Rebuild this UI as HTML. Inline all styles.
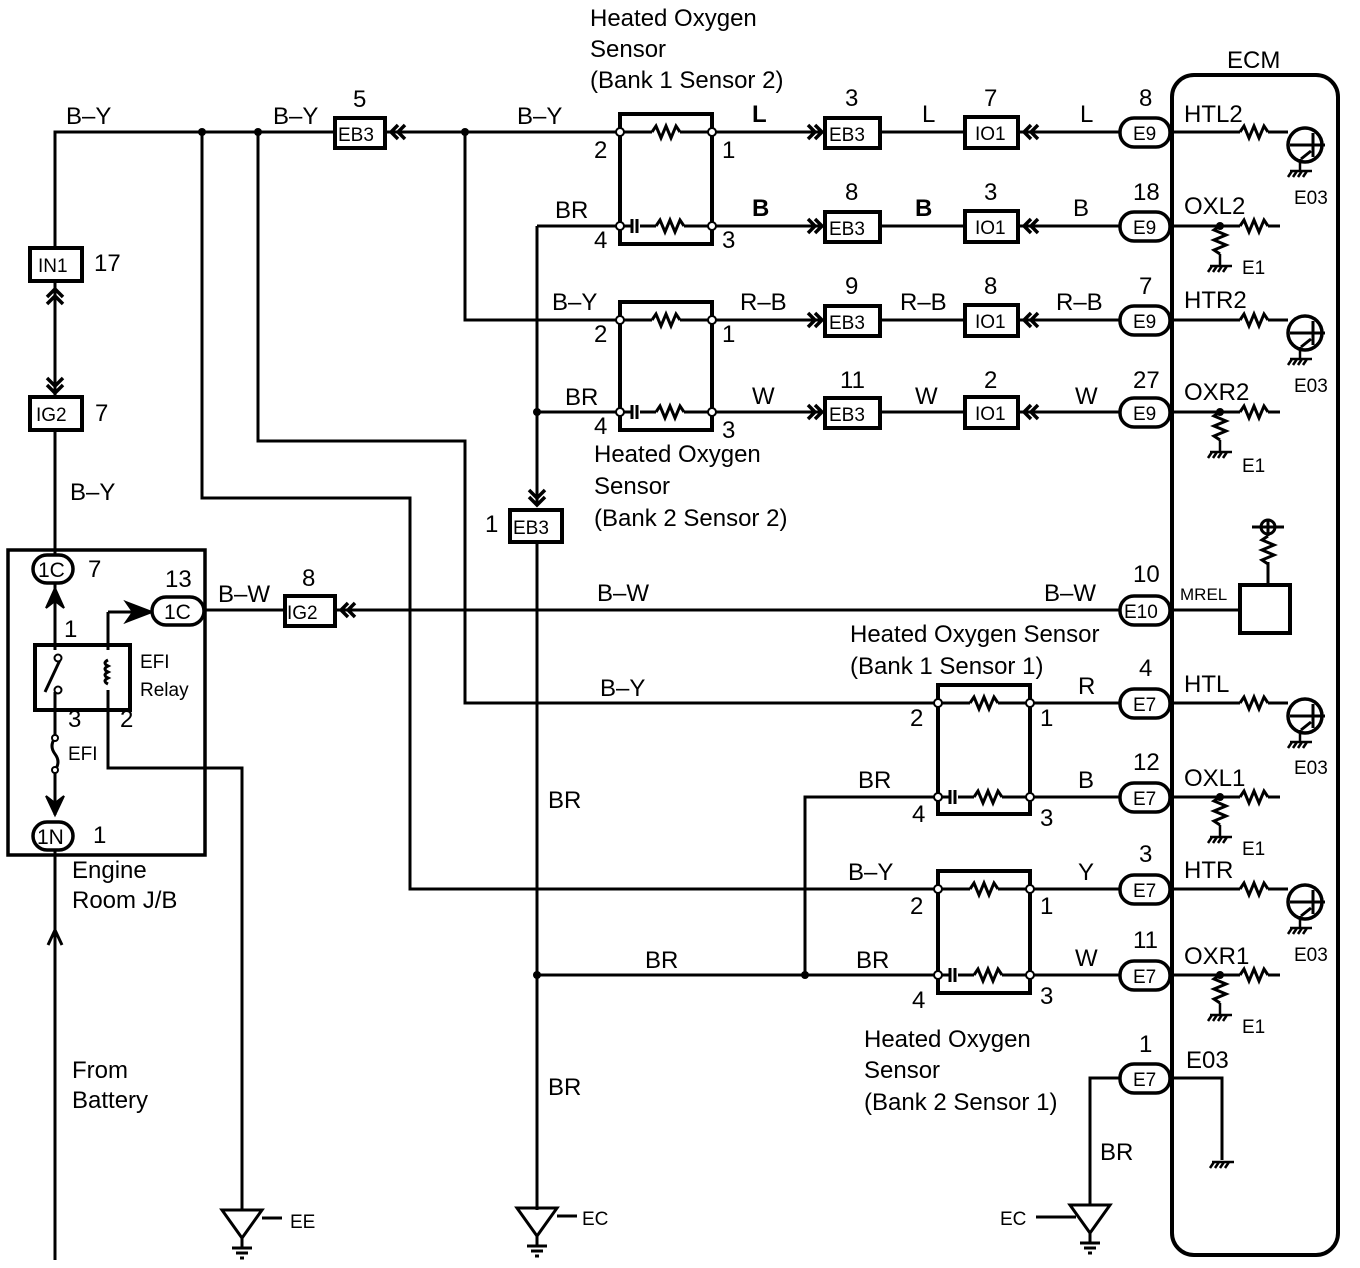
<!DOCTYPE html>
<html><head><meta charset="utf-8"><style>
html,body{margin:0;padding:0;background:#fff}
svg{display:block}
text{font-family:"Liberation Sans",Arial,sans-serif;fill:#000}
.t{font-size:24px}
.s{font-size:19px}
.b{font-size:19px}
</style></head><body>
<svg width="1360" height="1268" viewBox="0 0 1360 1268" xmlns="http://www.w3.org/2000/svg">
<defs>
<path id="rh" d="M0 0 l4 -6 l5 12 l5 -12 l5 12 l5 -12 l4 6" fill="none" stroke="#000" stroke-width="3"/>
<path id="rv" d="M0 0 l-6 4 l12 5 l-12 5 l12 5 l-12 5 l6 4" fill="none" stroke="#000" stroke-width="3"/>
<g id="gnd"><path d="M-10 0 h22 M-8 0 l-4 6 M-3 0 l-4 6 M2 0 l-4 6 M7 0 l-4 6" stroke="#000" stroke-width="2.5" fill="none"/></g>
<g id="ar"><path d="M-12 -7 l7 7 l-7 7 M-5 -7 l7 7 l-7 7" fill="none" stroke="#000" stroke-width="3.5"/></g>
<g id="al"><path d="M12 -7 l-7 7 l7 7 M5 -7 l-7 7 l7 7" fill="none" stroke="#000" stroke-width="3.5"/></g>
<g id="tr"><circle cx="0" cy="0" r="17" fill="none" stroke="#000" stroke-width="3.5"/><path d="M-15 0 h35 M8 -12 v24 M-4 14 l10 -8" stroke="#000" stroke-width="3" fill="none"/><path d="M-5 14 v12" stroke="#000" stroke-width="2.5"/><use href="#gnd" x="-5" y="26"/></g>
<g id="ox"><circle cx="0" cy="0" r="4" fill="#000"/><use href="#rv" x="0" y="0"/><path d="M0 28 v12" stroke="#000" stroke-width="2.5"/><use href="#gnd" x="0" y="40"/></g>
</defs>

<g stroke="#000" stroke-width="3" fill="none">
<path d="M55 248 V132 H335"/>
<path d="M385 132 H620"/>
<path d="M202 132 V498 H410 V889 H938"/>
<path d="M258 132 V441 H465 V703 H938"/>
<path d="M465 132 V320 H620"/>
<path d="M55 282 V396"/>
<path d="M55 430 V558"/>
<path d="M537 226 H620 M537 226 V505"/>
<path d="M537 412 H620"/>
<path d="M537 542 V1210"/>
<path d="M537 975 H938 M805 975 V797 H938"/>
<path d="M205 610 H285"/>
<path d="M335 610 H1120"/>
<path d="M55 580 V650 M55 692 V735 M55 770 V815 M55 850 V1260"/>
<path d="M108 612 H140 M108 612 V650 M108 690 V768 H242 V1210"/>
<path d="M712 132 H820 M880 132 H965 M1018 132 H1120"/>
<path d="M712 226 H820 M880 226 H965 M1018 226 H1120"/>
<path d="M712 320 H820 M880 320 H965 M1018 320 H1120"/>
<path d="M712 412 H820 M880 412 H965 M1018 412 H1120"/>
<path d="M1030 703 H1120 M1030 797 H1120 M1030 889 H1120 M1030 975 H1120"/>
<path d="M1120 1078 H1090 V1205"/>
<path d="M1170 132 H1240 M1268 132 H1288"/>
<path d="M1170 226 H1240 M1268 226 H1280"/>
<path d="M1170 320 H1240 M1268 320 H1288"/>
<path d="M1170 412 H1240 M1268 412 H1280"/>
<path d="M1170 703 H1240 M1268 703 H1288"/>
<path d="M1170 797 H1240 M1268 797 H1280"/>
<path d="M1170 889 H1240 M1268 889 H1288"/>
<path d="M1170 975 H1240 M1268 975 H1280"/>
<path d="M1170 610 H1240"/>
<path d="M1170 1078 H1222 V1160"/>
<path d="M1268 585 V562 M1268 536 V520"/>
</g>

<rect x="1172" y="75" width="166" height="1180" rx="22" fill="none" stroke="#000" stroke-width="4"/>
<text class="t" x="1227" y="68">ECM</text>

<rect x="8" y="550" width="197" height="305" fill="none" stroke="#000" stroke-width="3.5"/>
<rect x="35" y="645" width="95" height="65" fill="none" stroke="#000" stroke-width="4"/>
<path d="M45 692 L60 660" stroke="#000" stroke-width="3"/>
<circle cx="58" cy="658" r="3.5" fill="#fff" stroke="#000" stroke-width="2"/>
<circle cx="58" cy="690" r="3.5" fill="#fff" stroke="#000" stroke-width="2"/>
<path d="M108 660 q-6 3 0 6 q-6 3 0 6 q-6 3 0 6 q-6 3 0 6" fill="none" stroke="#000" stroke-width="3"/>
<path d="M55 738 q-6 8 0 16 q6 8 0 16" fill="none" stroke="#000" stroke-width="3"/>
<circle cx="55" cy="738" r="3" fill="#fff" stroke="#000" stroke-width="2"/>
<circle cx="55" cy="770" r="3" fill="#fff" stroke="#000" stroke-width="2"/>
<path d="M46 608 L55 588 L64 608 L55 601 Z" fill="#000" stroke="#000" stroke-width="2"/>
<path d="M46 796 L55 815 L64 796 L55 803 Z" fill="#000" stroke="#000" stroke-width="2"/>
<path d="M126 602 L152 612 L126 622 L133 612 Z" fill="#000" stroke="#000" stroke-width="2"/>
<rect x="33" y="555" width="40" height="28" rx="14" fill="#fff" stroke="#000" stroke-width="3.5"/>
<text x="38" y="577" style="font-size:21px">1C</text>
<rect x="152" y="597" width="52" height="28" rx="14" fill="#fff" stroke="#000" stroke-width="3.5"/>
<text x="164" y="619" style="font-size:21px">1C</text>
<rect x="33" y="822" width="40" height="28" rx="14" fill="#fff" stroke="#000" stroke-width="3.5"/>
<text x="37" y="844" style="font-size:21px">1N</text>
<text class="t" x="88" y="577">7</text>
<text class="t" x="165" y="587">13</text>
<text class="t" x="64" y="637">1</text>
<text class="t" x="68" y="727">3</text>
<text class="t" x="120" y="727">2</text>
<text class="s" x="140" y="668">EFI</text>
<text class="s" x="140" y="696">Relay</text>
<text class="s" x="68" y="760">EFI</text>
<text class="t" x="93" y="843">1</text>
<text class="t" x="72" y="878">Engine</text>
<text class="t" x="72" y="908">Room J/B</text>
<path d="M48 945 L55 930 L62 945" fill="none" stroke="#000" stroke-width="3"/>
<text class="t" x="72" y="1078">From</text>
<text class="t" x="72" y="1108">Battery</text>

<rect x="30" y="248" width="52" height="33" fill="#fff" stroke="#000" stroke-width="4"/>
<text class="b" x="38" y="272">IN1</text>
<text class="t" x="94" y="271">17</text>
<path d="M47 297 l8 -8 l8 8 M47 304 l8 -8 l8 8" fill="none" stroke="#000" stroke-width="3.5"/>
<path d="M47 378 l8 8 l8 -8 M47 385 l8 8 l8 -8" fill="none" stroke="#000" stroke-width="3.5"/>
<rect x="30" y="397" width="52" height="33" fill="#fff" stroke="#000" stroke-width="4"/>
<text class="b" x="36" y="421">IG2</text>
<text class="t" x="95" y="421">7</text>
<text class="t" x="66" y="124">B–Y</text>
<text class="t" x="70" y="500">B–Y</text>

<rect x="335" y="118" width="50" height="30" fill="#fff" stroke="#000" stroke-width="4"/>
<text class="b" x="338" y="141">EB3</text>
<use href="#al" x="393" y="132"/>
<text class="t" x="353" y="107">5</text>
<text class="t" x="273" y="124">B–Y</text>
<text class="t" x="517" y="124">B–Y</text>
<g fill="#000"><circle cx="202" cy="132" r="4"/><circle cx="258" cy="132" r="4"/><circle cx="465" cy="132" r="4"/><circle cx="537" cy="412" r="4"/><circle cx="805" cy="975" r="4"/><circle cx="537" cy="975" r="4"/></g>

<path d="M529 490 l8 8 l8 -8 M529 497 l8 8 l8 -8" fill="none" stroke="#000" stroke-width="3.5"/>
<rect x="510" y="510" width="52" height="32" fill="#fff" stroke="#000" stroke-width="4"/>
<text class="b" x="513" y="534">EB3</text>
<text class="t" x="485" y="532">1</text>

<rect x="285" y="596" width="50" height="30" fill="#fff" stroke="#000" stroke-width="4"/>
<text class="b" x="287" y="619">IG2</text>
<use href="#al" x="343" y="610"/>
<text class="t" x="302" y="586">8</text>
<text class="t" x="218" y="602">B–W</text>
<text class="t" x="597" y="601">B–W</text>
<text class="t" x="1044" y="601">B–W</text>

<rect x="620" y="114" width="92" height="130" fill="none" stroke="#000" stroke-width="4"/>
<rect x="620" y="302" width="92" height="128" fill="none" stroke="#000" stroke-width="4"/>
<rect x="938" y="685" width="92" height="129" fill="none" stroke="#000" stroke-width="4"/>
<rect x="938" y="871" width="92" height="122" fill="none" stroke="#000" stroke-width="4"/>
<g stroke="#000" stroke-width="3" fill="none">
<path d="M620 132 H652 M680 132 H712 M620 226 H632 M640 226 H656 M684 226 H712 M632 219 v14 M637 219 v14"/>
<path d="M620 320 H652 M680 320 H712 M620 412 H632 M640 412 H656 M684 412 H712 M632 405 v14 M637 405 v14"/>
<path d="M938 703 H970 M998 703 H1030 M938 797 H950 M958 797 H974 M1002 797 H1030 M950 790 v14 M955 790 v14"/>
<path d="M938 889 H970 M998 889 H1030 M938 975 H950 M958 975 H974 M1002 975 H1030 M950 968 v14 M955 968 v14"/>
</g>
<use href="#rh" x="652" y="132"/><use href="#rh" x="656" y="226"/>
<use href="#rh" x="652" y="320"/><use href="#rh" x="656" y="412"/>
<use href="#rh" x="970" y="703"/><use href="#rh" x="974" y="797"/>
<use href="#rh" x="970" y="889"/><use href="#rh" x="974" y="975"/>
<g fill="#fff" stroke="#000" stroke-width="2">
<circle cx="620" cy="132" r="4"/><circle cx="712" cy="132" r="4"/><circle cx="620" cy="226" r="4"/><circle cx="712" cy="226" r="4"/>
<circle cx="620" cy="320" r="4"/><circle cx="712" cy="320" r="4"/><circle cx="620" cy="412" r="4"/><circle cx="712" cy="412" r="4"/>
<circle cx="938" cy="703" r="4"/><circle cx="1030" cy="703" r="4"/><circle cx="938" cy="797" r="4"/><circle cx="1030" cy="797" r="4"/>
<circle cx="938" cy="889" r="4"/><circle cx="1030" cy="889" r="4"/><circle cx="938" cy="975" r="4"/><circle cx="1030" cy="975" r="4"/>
</g>
<text class="t" x="594" y="158">2</text><text class="t" x="722" y="158">1</text><text class="t" x="594" y="248">4</text><text class="t" x="722" y="248">3</text>
<text class="t" x="594" y="342">2</text><text class="t" x="722" y="342">1</text><text class="t" x="594" y="434">4</text><text class="t" x="722" y="438">3</text>
<text class="t" x="910" y="726">2</text><text class="t" x="1040" y="726">1</text><text class="t" x="912" y="822">4</text><text class="t" x="1040" y="826">3</text>
<text class="t" x="910" y="914">2</text><text class="t" x="1040" y="914">1</text><text class="t" x="912" y="1008">4</text><text class="t" x="1040" y="1004">3</text>
<text class="t" x="590" y="26">Heated Oxygen</text>
<text class="t" x="590" y="57">Sensor</text>
<text class="t" x="590" y="88">(Bank 1 Sensor 2)</text>
<text class="t" x="594" y="462">Heated Oxygen</text>
<text class="t" x="594" y="494">Sensor</text>
<text class="t" x="594" y="526">(Bank 2 Sensor 2)</text>
<text class="t" x="850" y="642">Heated Oxygen Sensor</text>
<text class="t" x="850" y="674">(Bank 1 Sensor 1)</text>
<text class="t" x="864" y="1047">Heated Oxygen</text>
<text class="t" x="864" y="1078">Sensor</text>
<text class="t" x="864" y="1110">(Bank 2 Sensor 1)</text>

<text class="t" x="555" y="218">BR</text>
<text class="t" x="552" y="310">B–Y</text>
<text class="t" x="565" y="405">BR</text>
<text class="t" x="600" y="696">B–Y</text>
<text class="t" x="858" y="788">BR</text>
<text class="t" x="848" y="880">B–Y</text>
<text class="t" x="645" y="968">BR</text>
<text class="t" x="856" y="968">BR</text>
<text class="t" x="548" y="808">BR</text>
<text class="t" x="548" y="1095">BR</text>
<text class="t" x="1100" y="1160">BR</text>

<use href="#ar" x="820" y="132"/><use href="#ar" x="820" y="226"/><use href="#ar" x="820" y="320"/><use href="#ar" x="820" y="412"/>
<use href="#al" x="1026" y="132"/><use href="#al" x="1026" y="226"/><use href="#al" x="1026" y="320"/><use href="#al" x="1026" y="412"/>
<g fill="#fff" stroke="#000" stroke-width="4">
<rect x="825" y="118" width="55" height="30"/><rect x="825" y="212" width="55" height="30"/><rect x="825" y="306" width="55" height="30"/><rect x="825" y="398" width="55" height="30"/>
<rect x="965" y="117" width="53" height="31"/><rect x="965" y="211" width="53" height="31"/><rect x="965" y="305" width="53" height="31"/><rect x="965" y="397" width="53" height="31"/>
</g>
<g fill="#fff" stroke="#000" stroke-width="3.5">
<rect x="1120" y="118" width="50" height="29" rx="14"/><rect x="1120" y="212" width="50" height="29" rx="14"/><rect x="1120" y="306" width="50" height="29" rx="14"/><rect x="1120" y="398" width="50" height="29" rx="14"/>
<rect x="1120" y="596" width="50" height="29" rx="14"/>
<rect x="1120" y="689" width="50" height="29" rx="14"/><rect x="1120" y="783" width="50" height="29" rx="14"/><rect x="1120" y="875" width="50" height="29" rx="14"/><rect x="1120" y="961" width="50" height="29" rx="14"/><rect x="1120" y="1064" width="50" height="29" rx="14"/>
</g>
<text class="b" x="829" y="141">EB3</text><text class="b" x="829" y="235">EB3</text><text class="b" x="829" y="329">EB3</text><text class="b" x="829" y="421">EB3</text>
<text class="b" x="975" y="140">IO1</text><text class="b" x="975" y="234">IO1</text><text class="b" x="975" y="328">IO1</text><text class="b" x="975" y="420">IO1</text>
<text class="b" x="1133" y="140">E9</text><text class="b" x="1133" y="234">E9</text><text class="b" x="1133" y="328">E9</text><text class="b" x="1133" y="420">E9</text>
<text class="b" x="1124" y="618">E10</text>
<text class="b" x="1133" y="711">E7</text><text class="b" x="1133" y="805">E7</text><text class="b" x="1133" y="897">E7</text><text class="b" x="1133" y="983">E7</text><text class="b" x="1133" y="1086">E7</text>

<text class="t" x="845" y="106">3</text><text class="t" x="845" y="200">8</text><text class="t" x="845" y="294">9</text><text class="t" x="840" y="388">11</text>
<text class="t" x="984" y="106">7</text><text class="t" x="984" y="200">3</text><text class="t" x="984" y="294">8</text><text class="t" x="984" y="388">2</text>
<text class="t" x="1139" y="106">8</text><text class="t" x="1133" y="200">18</text><text class="t" x="1139" y="294">7</text><text class="t" x="1133" y="388">27</text>
<text class="t" x="1133" y="582">10</text>
<text class="t" x="1139" y="676">4</text><text class="t" x="1133" y="770">12</text><text class="t" x="1139" y="862">3</text><text class="t" x="1133" y="948">11</text><text class="t" x="1139" y="1052">1</text>

<text class="t" x="752" y="122" font-weight="bold">L</text><text class="t" x="752" y="216" font-weight="bold">B</text><text class="t" x="740" y="310">R–B</text><text class="t" x="752" y="404">W</text>
<text class="t" x="922" y="122">L</text><text class="t" x="915" y="216" font-weight="bold">B</text><text class="t" x="900" y="310">R–B</text><text class="t" x="915" y="404">W</text>
<text class="t" x="1080" y="122">L</text><text class="t" x="1073" y="216">B</text><text class="t" x="1056" y="310">R–B</text><text class="t" x="1075" y="404">W</text>
<text class="t" x="1078" y="694">R</text><text class="t" x="1078" y="788">B</text><text class="t" x="1078" y="880">Y</text><text class="t" x="1075" y="966">W</text>

<text class="t" x="1184" y="122">HTL2</text><text class="t" x="1184" y="214">OXL2</text><text class="t" x="1184" y="308">HTR2</text><text class="t" x="1184" y="400">OXR2</text>
<text class="t" x="1184" y="692">HTL</text><text class="t" x="1184" y="786">OXL1</text><text class="t" x="1184" y="878">HTR</text><text class="t" x="1184" y="964">OXR1</text>
<text class="t" x="1186" y="1068">E03</text>
<text x="1180" y="600" style="font-size:17px">MREL</text>
<use href="#rh" x="1240" y="132"/><use href="#rh" x="1240" y="226"/><use href="#rh" x="1240" y="320"/><use href="#rh" x="1240" y="412"/>
<use href="#rh" x="1240" y="703"/><use href="#rh" x="1240" y="797"/><use href="#rh" x="1240" y="889"/><use href="#rh" x="1240" y="975"/>
<use href="#tr" x="1305" y="145"/><use href="#tr" x="1305" y="333"/><use href="#tr" x="1305" y="716"/><use href="#tr" x="1305" y="902"/>
<use href="#ox" x="1220" y="226"/><use href="#ox" x="1220" y="412"/><use href="#ox" x="1220" y="797"/><use href="#ox" x="1220" y="975"/>
<text class="s" x="1294" y="204">E03</text><text class="s" x="1294" y="392">E03</text><text class="s" x="1294" y="774">E03</text><text class="s" x="1294" y="961">E03</text>
<text class="s" x="1242" y="274">E1</text><text class="s" x="1242" y="472">E1</text><text class="s" x="1242" y="855">E1</text><text class="s" x="1242" y="1033">E1</text>
<rect x="1240" y="585" width="50" height="48" fill="#fff" stroke="#000" stroke-width="4"/>
<use href="#rv" x="1268" y="536"/>
<circle cx="1268" cy="527" r="7" fill="none" stroke="#000" stroke-width="3"/>
<path d="M1252 527 H1284" stroke="#000" stroke-width="3"/>
<use href="#gnd" x="1222" y="1162"/>

<g stroke="#000" stroke-width="3" fill="none">
<path d="M222 1210 H262 L242 1238 Z M242 1238 V1248 M232 1248 H252 M236 1253 H248 M240 1258 H244 M262 1218 H282"/>
<path d="M517 1208 H557 L537 1236 Z M537 1236 V1246 M527 1246 H547 M531 1251 H543 M535 1256 H539 M557 1216 H577"/>
<path d="M1070 1205 H1110 L1090 1233 Z M1090 1233 V1243 M1080 1243 H1100 M1084 1248 H1096 M1088 1253 H1092 M1036 1217 H1076"/>
</g>
<text class="s" x="290" y="1228">EE</text>
<text class="s" x="582" y="1225">EC</text>
<text class="s" x="1000" y="1225">EC</text>
</svg>
</body></html>
